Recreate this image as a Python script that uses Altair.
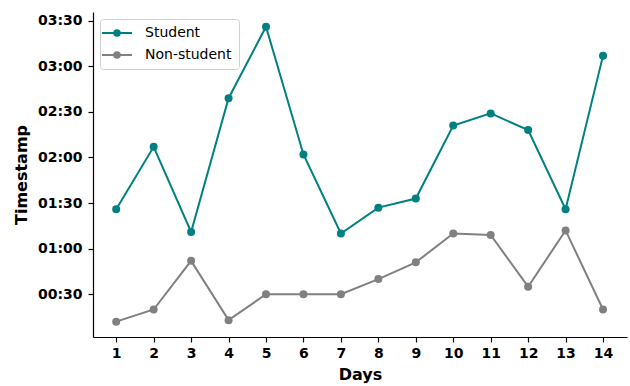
import altair as alt
import pandas as pd

# Daily timestamps (HH:MM) for each group
days = list(range(1, 15))
student_times = ["01:26", "02:07", "01:11", "02:39", "03:26", "02:02", "01:10",
                 "01:27", "01:33", "02:21", "02:29", "02:18", "01:26", "03:07"]
nonstudent_times = ["00:12", "00:20", "00:52", "00:13", "00:30", "00:30", "00:30",
                    "00:40", "00:51", "01:10", "01:09", "00:35", "01:12", "00:20"]
groups = ["Student", "Non-student"]
colors = ["#008080", "#808080"]
y_ticks = [30, 60, 90, 120, 150, 180, 210]


def to_minutes(t):
    h, m = t.split(":")
    return int(h) * 60 + int(m)


rows = []
for name, times in zip(groups, [student_times, nonstudent_times]):
    for d, t in zip(days, times):
        rows.append({"Day": d, "Minutes": to_minutes(t), "Group": name})
df = pd.DataFrame(rows)

font = "DejaVu Sans"
label_expr = ("(floor(datum.value / 60) < 10 ? '0' : '') + floor(datum.value / 60) + ':' + "
              "(datum.value % 60 < 10 ? '0' : '') + (datum.value % 60)")

x_enc = alt.X("Day:Q", scale=alt.Scale(domain=[0.38, 14.64], nice=False, zero=False),
              axis=alt.Axis(values=days, format="d", title="Days", grid=False,
                            labelFont=font, labelFontSize=14, labelFontWeight="bold",
                            titleFont=font, titleFontSize=16, titleFontWeight="bold",
                            titlePadding=6, tickSize=5, labelPadding=4,
                            domainColor="black", tickColor="black", labelColor="black",
                            titleColor="black", domainWidth=1.2, tickWidth=1.2))
y_enc = alt.Y("Minutes:Q", scale=alt.Scale(domain=[1.9, 215.7], nice=False, zero=False),
              axis=alt.Axis(values=y_ticks, labelExpr=label_expr, title="Timestamp", grid=False,
                            labelFont=font, labelFontSize=14, labelFontWeight="bold",
                            titleFont=font, titleFontSize=16, titleFontWeight="bold",
                            titlePadding=8, tickSize=5, labelPadding=6,
                            domainColor="black", tickColor="black", labelColor="black",
                            titleColor="black", domainWidth=1.2, tickWidth=1.2))

# legend glyph: a short line segment with a dot in the middle
sym = "M-3,0L3,0M-0.55,0A0.55,0.55,0,1,0,0.55,0A0.55,0.55,0,1,0,-0.55,0Z"
legend = alt.Legend(title=None, orient="top-left", offset=7, symbolType=sym,
                    symbolSize=100, symbolStrokeWidth=2, symbolOffset=3,
                    labelFont=font, labelFontSize=14, labelColor="black",
                    labelOffset=21, padding=7, rowPadding=8,
                    strokeColor="#d0d0d0", fillColor="white", cornerRadius=3)

scale = alt.Scale(domain=groups, range=colors)

lines = alt.Chart(df).mark_line(strokeWidth=2).encode(
    x=x_enc, y=y_enc,
    stroke=alt.Stroke("Group:N", scale=scale, legend=legend, sort=groups),
)
points = alt.Chart(df).mark_point(filled=True, size=64, opacity=1).encode(
    x=x_enc, y=y_enc,
    fill=alt.Fill("Group:N", scale=scale, legend=legend, sort=groups),
)

chart = (lines + points).properties(
    width=534, height=325,
    autosize=alt.AutoSizeParams(type="none"),
    padding={"left": 93, "top": 12, "right": 3, "bottom": 49},
).configure_view(stroke=None)

chart.save("out.html", embed_options={"renderer": "svg", "actions": False})
